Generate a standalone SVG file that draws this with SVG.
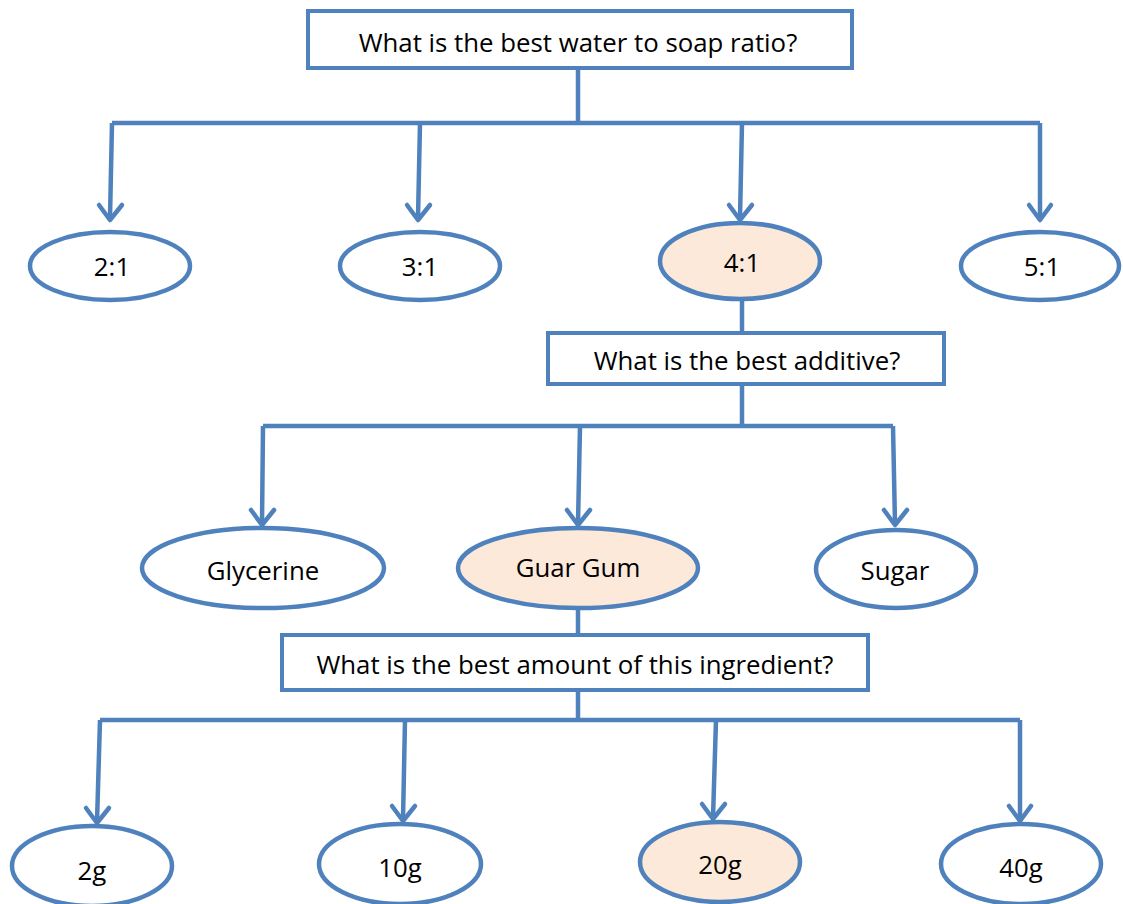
<svg xmlns="http://www.w3.org/2000/svg" width="1123" height="904" viewBox="0 0 1123 904">
<style>
.box{fill:#fff;stroke:#4F81BD;stroke-width:4}
.ell{fill:#fff;stroke:#4F81BD;stroke-width:4.5}
.sel{fill:#FDE9D9}
.ln{fill:none;stroke:#4F81BD;stroke-width:4.5}
text{font-family:"Open Sans","Liberation Sans",Arial,sans-serif;font-size:25.8px;fill:#000;text-anchor:middle}
</style>
<rect width="1123" height="904" fill="#fff"/>
<g id="connectors">
<path class="ln" d="M578 68V123M112 123H1040M742 300V333M742 384V426M263 426H893M578 608V635M578 690V720M100 720H1020"/>
<path class="ln" d="M112 123L110 218M420 123L418 218M742 123L740 218M1040 123L1040 218"/>
<path class="ln" d="M263 426L262 524M580 426L578 524M893 426L895 524"/>
<path class="ln" d="M100 720L97 822M405 720L403 820M716 720L713 818M1020 720L1020 820"/>
<g class="ln" stroke-linecap="round" stroke-linejoin="round">
<path d="M99 205L110 220L122 205"/>
<path d="M407 205L418 220L430 205"/>
<path d="M729 205L740 220L752 205"/>
<path d="M1029 205L1040 220L1051 205"/>
<path d="M251 510L262 525L274 510"/>
<path d="M567 510L578 525L590 510"/>
<path d="M884 510L895 525L907 510"/>
<path d="M86 808L97 823L109 808"/>
<path d="M392 806L403 821L415 806"/>
<path d="M702 804L713 819L725 804"/>
<path d="M1009 806L1020 821L1031 806"/>
</g>
</g>
<g id="q1"><rect class="box" x="308" y="11" width="544" height="57"/><text x="578" y="52">What is the best water to soap ratio?</text></g>
<g id="r21"><ellipse class="ell" cx="110" cy="266" rx="80" ry="34"/><text x="112" y="276">2:1</text></g>
<g id="r31"><ellipse class="ell" cx="420" cy="266" rx="80" ry="34"/><text x="420" y="276">3:1</text></g>
<g id="r41"><ellipse class="ell sel" cx="740" cy="261" rx="80" ry="38"/><text x="742" y="272">4:1</text></g>
<g id="r51"><ellipse class="ell" cx="1040" cy="266" rx="79" ry="34"/><text x="1042" y="276">5:1</text></g>
<g id="q2"><rect class="box" x="548" y="333" width="396" height="51"/><text x="747" y="370">What is the best additive?</text></g>
<g id="glycerine"><ellipse class="ell" cx="263" cy="568" rx="121" ry="40"/><text x="263" y="580">Glycerine</text></g>
<g id="guargum"><ellipse class="ell sel" cx="578" cy="568" rx="120" ry="40"/><text x="578" y="577">Guar Gum</text></g>
<g id="sugar"><ellipse class="ell" cx="896" cy="569" rx="80" ry="39"/><text x="895" y="580">Sugar</text></g>
<g id="q3"><rect class="box" x="282" y="635" width="586" height="55"/><text x="575" y="674">What is the best amount of this ingredient?</text></g>
<g id="g2"><ellipse class="ell" cx="92" cy="866" rx="80" ry="40"/><text x="92" y="880">2g</text></g>
<g id="g10"><ellipse class="ell" cx="400" cy="864" rx="81" ry="40"/><text x="400" y="877">10g</text></g>
<g id="g20"><ellipse class="ell sel" cx="720" cy="862" rx="80" ry="40"/><text x="720" y="874">20g</text></g>
<g id="g40"><ellipse class="ell" cx="1021" cy="864" rx="80" ry="40"/><text x="1021" y="877">40g</text></g>
</svg>
